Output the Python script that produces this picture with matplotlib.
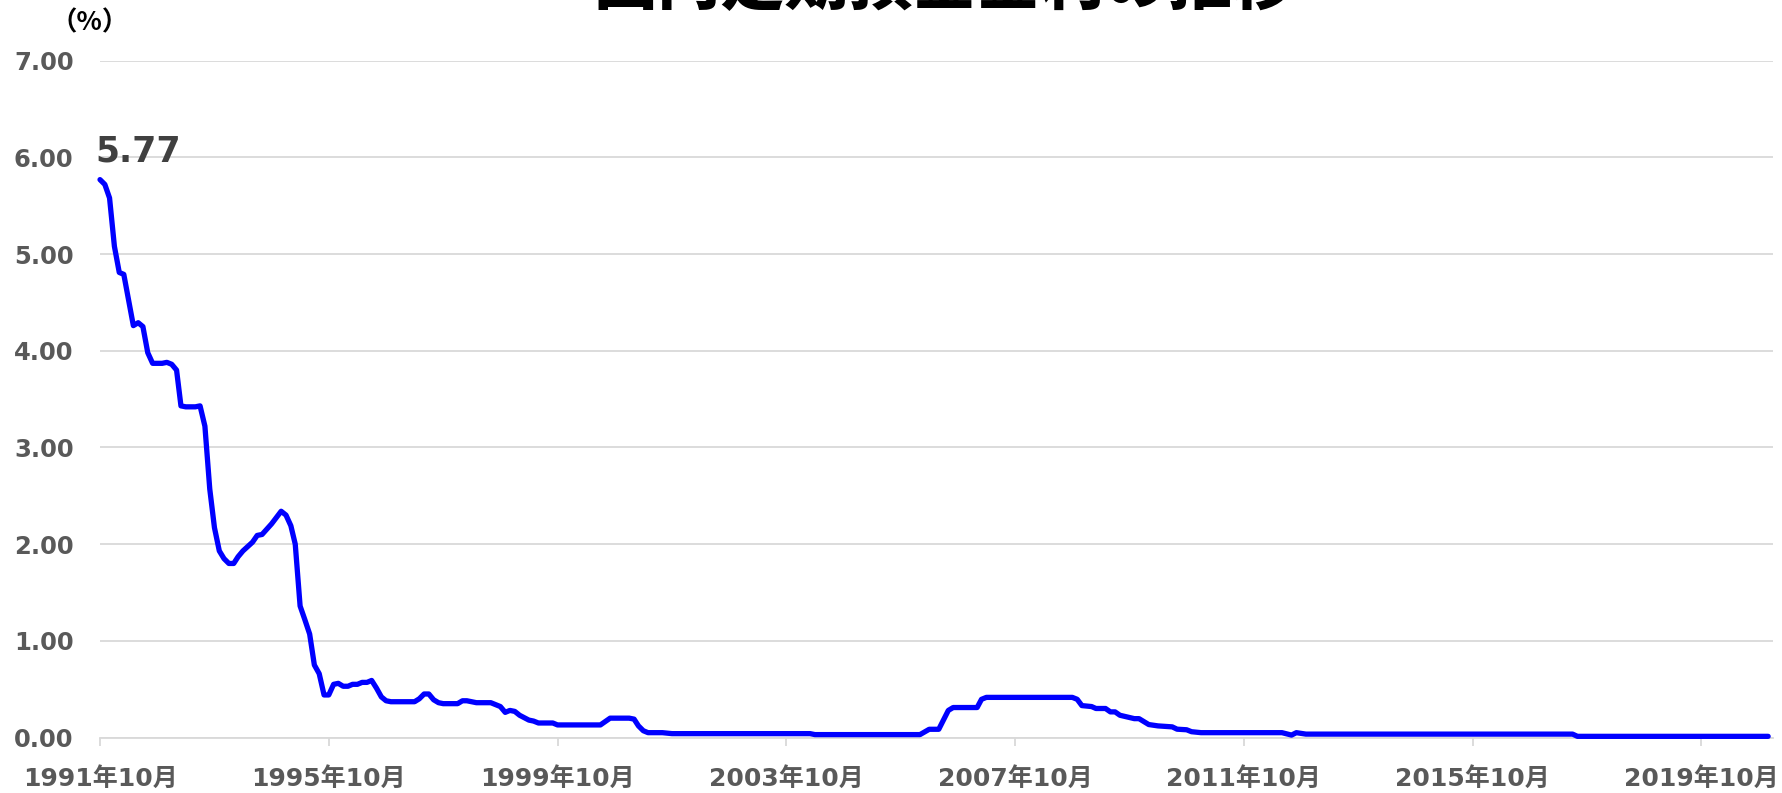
import matplotlib.pyplot as plt
import pandas as pd

# データ（月, 金利%）
months = [
    '1991-10', '1991-11', '1991-12', '1992-01', '1992-02', '1992-03', '1992-05',
    '1992-06', '1992-07', '1992-08', '1992-09', '1992-11', '1992-12', '1993-01',
    '1993-02', '1993-03', '1993-04', '1993-06', '1993-07', '1993-08', '1993-09',
    '1993-10', '1993-11', '1993-12', '1994-01', '1994-02', '1994-03', '1994-04',
    '1994-06', '1994-07', '1994-08', '1994-10', '1994-12', '1995-01', '1995-02',
    '1995-03', '1995-04', '1995-05', '1995-06', '1995-07', '1995-08', '1995-09',
    '1995-10', '1995-11', '1995-12', '1996-01', '1996-02', '1996-03', '1996-04',
    '1996-05', '1996-06', '1996-07', '1996-08', '1996-09', '1996-10', '1996-11',
    '1997-04', '1997-05', '1997-06', '1997-07', '1997-08', '1997-09', '1997-10',
    '1998-01', '1998-02', '1998-03', '1998-05', '1998-08', '1998-10', '1998-11',
    '1998-12', '1999-01', '1999-02', '1999-04', '1999-05', '1999-06', '1999-09',
    '1999-10', '2000-07', '2000-09', '2001-01', '2001-02', '2001-03', '2001-04',
    '2001-05', '2001-08', '2001-10', '2004-03', '2004-04', '2006-02', '2006-04',
    '2006-06', '2006-08', '2006-09', '2007-02', '2007-03', '2007-04', '2008-10',
    '2008-11', '2008-12', '2009-02', '2009-03', '2009-05', '2009-06', '2009-07',
    '2009-08', '2009-11', '2009-12', '2010-02', '2010-04', '2010-07', '2010-08',
    '2010-10', '2010-11', '2011-01', '2012-06', '2012-08', '2012-09', '2012-11',
    '2017-07', '2017-08', '2020-12',
]
rates = [
    5.77, 5.72, 5.58, 5.08, 4.81, 4.79, 4.26,
    4.29, 4.25, 3.98, 3.87, 3.87, 3.88, 3.86,
    3.80, 3.43, 3.42, 3.42, 3.43, 3.22, 2.57,
    2.17, 1.93, 1.85, 1.80, 1.80, 1.87, 1.93,
    2.02, 2.09, 2.10, 2.21, 2.34, 2.30, 2.19,
    2.00, 1.36, 1.22, 1.07, 0.75, 0.66, 0.44,
    0.44, 0.55, 0.56, 0.53, 0.53, 0.55, 0.55,
    0.57, 0.57, 0.59, 0.51, 0.42, 0.38, 0.37,
    0.37, 0.40, 0.45, 0.45, 0.39, 0.36, 0.35,
    0.35, 0.38, 0.38, 0.36, 0.36, 0.32, 0.26,
    0.28, 0.27, 0.23, 0.18, 0.17, 0.15, 0.15,
    0.13, 0.13, 0.20, 0.20, 0.19, 0.12, 0.07,
    0.05, 0.05, 0.04, 0.04, 0.03, 0.03, 0.085,
    0.085, 0.28, 0.31, 0.31, 0.395, 0.415, 0.415,
    0.395, 0.33, 0.32, 0.30, 0.30, 0.265, 0.265,
    0.23, 0.195, 0.195, 0.134, 0.12, 0.11, 0.086,
    0.08, 0.06, 0.05, 0.05, 0.025, 0.05, 0.035,
    0.035, 0.012, 0.012,
]
tick_months = ['1991-10', '1995-10', '1999-10', '2003-10', '2007-10',
               '2011-10', '2015-10', '2019-10']
tick_labels = ['1991年10月', '1995年10月', '1999年10月', '2003年10月',
               '2007年10月', '2011年10月', '2015年10月', '2019年10月']
title = '国内定期預金金利の推移'

fonts = ['DejaVu Sans', 'Noto Sans CJK JP']
plt.rcParams['font.family'] = fonts

dates = pd.to_datetime(months)
fig = plt.figure(figsize=(17.83, 7.93), dpi=100)
ax = fig.add_axes([100 / 1783, 1 - 737.5 / 793, 1673 / 1783, (737.5 - 60.7) / 793])

ax.plot(dates, rates, color='#0000ff', lw=3.8, solid_joinstyle='round',
        solid_capstyle='round', clip_on=False, zorder=3)

ax.set_xlim(pd.Timestamp('1991-10-01'), pd.Timestamp('2021-01-01'))
ax.set_ylim(0, 7)
ax.set_yticks(range(8))
ax.set_yticklabels([f'{v:.2f}' for v in range(8)])
ax.set_xticks(pd.to_datetime(tick_months))
ax.set_xticklabels(tick_labels)

ax.yaxis.grid(True, color='#d9d9d9', lw=1.3)
ax.set_axisbelow(True)
for s in ['top', 'right', 'left']:
    ax.spines[s].set_visible(False)
ax.spines['bottom'].set_color('#d9d9d9')
ax.spines['bottom'].set_linewidth(1.3)

ax.tick_params(axis='y', length=0, pad=19, labelsize=17.5, labelcolor='#595959')
ax.tick_params(axis='x', length=6, width=1.3, color='#d9d9d9', pad=15,
               labelsize=18, labelcolor='#595959')
for lab in ax.get_xticklabels() + ax.get_yticklabels():
    lab.set_fontweight('bold')

# 最初の値のラベル
ax.annotate(f'{rates[0]:.2f}', xy=(dates[0], rates[0]), xytext=(-3, 13),
            textcoords='offset points', fontsize=25, fontweight='bold',
            color='#404040', ha='left', va='baseline')

fig.text(90 / 1783, 1 - 23 / 793, '（%）', fontsize=19, fontweight='bold',
         ha='center', va='center', family=['Noto Sans CJK JP', 'DejaVu Sans'])
fig.text(945 / 1783, 1 - 4 / 793, title, fontsize=46, fontweight='heavy',
         ha='center', va='baseline', family=['Noto Sans CJK JP', 'DejaVu Sans'])

fig.savefig('out.png', dpi=100)
